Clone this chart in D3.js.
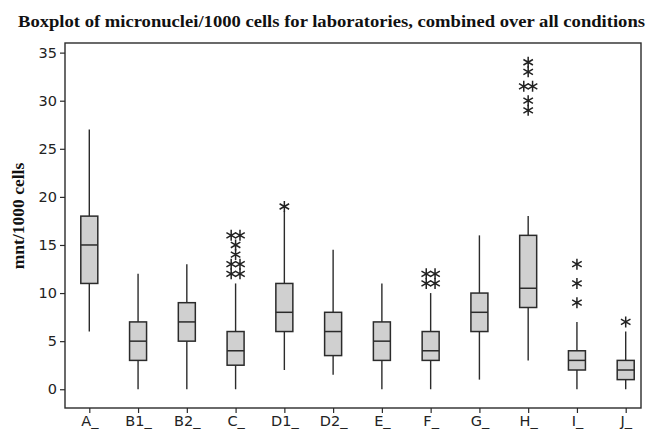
<!DOCTYPE html>
<html>
<head>
<meta charset="utf-8">
<script src="https://cdn.jsdelivr.net/npm/d3@7"></script>
<style>
  html, body { margin: 0; padding: 0; background: #fff; }
  svg { display: block; }
</style>
</head>
<body>
<svg id="chart" width="647" height="433"></svg>
<script>
// Micronuclei per 1000 cells, per laboratory
const labs        = ["A_", "B1_", "B2_", "C_", "D1_", "D2_", "E_", "F_", "G_", "H_", "I_", "J_"];
const whiskerLow  = [6,    0,     0,     0,    2,     1.5,   0,    0,    1,    3,    0,    0];
const q1          = [11,   3,     5,     2.5,  6,     3.5,   3,    3,    6,    8.5,  2,    1];
const median      = [15,   5,     7,     4,    8,     6,     5,    4,    8,    10.5, 3,    2];
const q3          = [18,   7,     9,     6,    11,    8,     7,    6,    10,   16,   4,    3];
const whiskerHigh = [27,   12,    13,    11,   18.5,  14.5,  11,   10,   16,   18,   7,    6];
const outliers    = [
  [], [], [],
  [16, 16, 15, 14, 13, 13, 12, 12],
  [19],
  [], [],
  [12, 12, 11, 11],
  [],
  [34, 33, 31.5, 31.5, 30, 29],
  [13, 11, 9],
  [7]
];
const yTicks = [0, 5, 10, 15, 20, 25, 30, 35];

const svg = d3.select("#chart");
const frame = { left: 65, right: 641, top: 43, bottom: 408 };

const x = d3.scalePoint().domain(labs).range([89.3, 625.7]);
const y = d3.scaleLinear().domain([-1.95, 36]).range([frame.bottom, frame.top]);

const ink = "#2b2b2b";
const boxW = 17;
const serif = "'Liberation Serif', 'Times New Roman', serif";

// title
svg.append("text")
  .attr("x", 331.5).attr("y", 27)
  .attr("text-anchor", "middle")
  .attr("font-family", serif)
  .attr("font-weight", "bold")
  .attr("font-size", 16.5)
  .attr("textLength", 627)
  .attr("lengthAdjust", "spacingAndGlyphs")
  .attr("fill", "#111")
  .text("Boxplot of micronuclei/1000 cells for laboratories, combined over all conditions");

// y axis title
svg.append("text")
  .attr("transform", `translate(24,216) rotate(-90)`)
  .attr("text-anchor", "middle")
  .attr("font-family", serif)
  .attr("font-weight", "bold")
  .attr("font-size", 17.5)
  .attr("fill", "#111")
  .text("mnt/1000 cells");

// axes
const yAxis = svg.append("g")
  .attr("transform", `translate(${frame.left},0)`)
  .call(d3.axisLeft(y).tickValues(yTicks).tickSize(5).tickPadding(3));
const xAxis = svg.append("g")
  .attr("transform", `translate(0,${frame.bottom})`)
  .call(d3.axisBottom(x).tickSize(5).tickPadding(3));

[yAxis, xAxis].forEach(g => {
  g.select(".domain").remove();
  g.selectAll(".tick line").attr("stroke", ink).attr("stroke-width", 1.2);
  g.selectAll(".tick text")
    .attr("fill", "#222")
    .attr("font-family", "'DejaVu Sans', Verdana, sans-serif")
    .attr("font-size", 14.5);
});

// plot frame
svg.append("rect")
  .attr("x", frame.left).attr("y", frame.top)
  .attr("width", frame.right - frame.left)
  .attr("height", frame.bottom - frame.top)
  .attr("fill", "none")
  .attr("stroke", ink)
  .attr("stroke-width", 1.4);

// boxes
const boxes = svg.append("g").selectAll("g")
  .data(labs.map((lab, i) => ({ lab, i })))
  .join("g")
  .attr("transform", d => `translate(${x(d.lab)},0)`);

boxes.append("line")
  .attr("x1", 0).attr("x2", 0)
  .attr("y1", d => y(whiskerHigh[d.i]))
  .attr("y2", d => y(q3[d.i]))
  .attr("stroke", ink).attr("stroke-width", 1.4);
boxes.append("line")
  .attr("x1", 0).attr("x2", 0)
  .attr("y1", d => y(q1[d.i]))
  .attr("y2", d => y(whiskerLow[d.i]))
  .attr("stroke", ink).attr("stroke-width", 1.4);
boxes.append("rect")
  .attr("x", -boxW / 2).attr("width", boxW)
  .attr("y", d => y(q3[d.i]))
  .attr("height", d => y(q1[d.i]) - y(q3[d.i]))
  .attr("fill", "#d0d0d0")
  .attr("stroke", ink).attr("stroke-width", 1.5);
boxes.append("line")
  .attr("x1", -boxW / 2).attr("x2", boxW / 2)
  .attr("y1", d => y(median[d.i]))
  .attr("y2", d => y(median[d.i]))
  .attr("stroke", ink).attr("stroke-width", 1.5);

// outliers: equal values are set side by side
const star = d3.symbol().type(d3.symbolAsterisk).size(85);
const pts = [];
labs.forEach((lab, i) => {
  const counts = d3.rollup(outliers[i], v => v.length, v => v);
  counts.forEach((n, v) => {
    for (let k = 0; k < n; k++) {
      pts.push({ lab, v, dx: (k - (n - 1) / 2) * 8.8 });
    }
  });
});
svg.append("g").selectAll("path")
  .data(pts)
  .join("path")
  .attr("d", star)
  .attr("transform", d => `translate(${x(d.lab) + d.dx},${y(d.v)})`)
  .attr("fill", "none")
  .attr("stroke", "#222")
  .attr("stroke-width", 1.5);
</script>
</body>
</html>
